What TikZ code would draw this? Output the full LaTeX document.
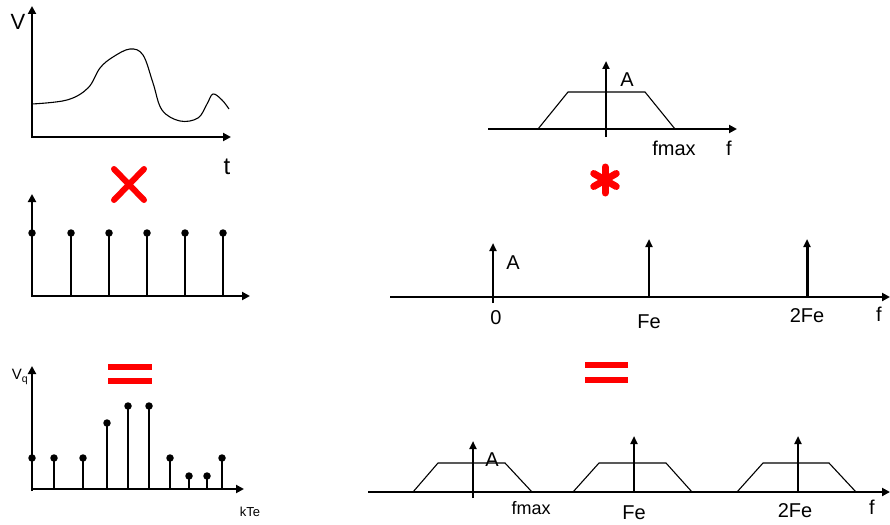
\documentclass[tikz,border=0pt]{standalone}
\usepackage{fontspec}
\setmainfont{Liberation Sans}
\usetikzlibrary{arrows.meta}
\begin{document}
\begin{tikzpicture}[x=1pt,y=-1pt,
  axis/.style={line width=2.6pt,-{Triangle[length=8pt,width=8pt]}},
  pulse/.style={line width=2.8pt},
  dirac/.style={line width=2.2pt,-{Triangle[length=8pt,width=7pt]}},
  thin/.style={line width=1.1pt},
  lbl/.style={inner sep=0pt,font=\fontsize{20}{22}\selectfont},
  dot/.style={circle,fill=black,inner sep=0pt,minimum size=7.5pt},
  redop/.style={red,line width=6pt,line cap=round}]
\useasboundingbox (0,0) rectangle (890,524);
% --- top-left signal
\draw[axis] (32,138) -- (32,6);
\draw[axis] (31,137) -- (231,137);
\node[lbl,font=\fontsize{22}{24}\selectfont] (V) at (18,22) {V};
\node[lbl,font=\fontsize{24}{26}\selectfont] (t) at (227,167) {t};
\draw[thin] plot[smooth,tension=0.6] coordinates {(32,104) (67,100) (88,88) (100,68) (113,57) (130,49) (143,55) (153,83) (162,110) (180,121) (198,118) (207,104) (213,94) (222,100) (229,109)};
% --- red times
\draw[redop] (114,169) -- (144,200) (144,169) -- (114,200);
% --- pulse train
\draw[axis] (32,297) -- (32,194);
\draw[axis] (31,296) -- (250,296);
\foreach \x [count=\i] in {32,71,109,147,185,223} {
  \draw[pulse] (\x,296) -- (\x,233);
  \node[dot] (p\i) at (\x,233) {};
}
% --- sampled signal
\draw[axis] (32,491) -- (32,366);
\draw[axis] (31,489) -- (244,489);
\node[inner sep=0pt,font=\fontsize{15}{17}\selectfont] (Vq) at (20,377) {V\textsubscript{q}};
\node[inner sep=0pt,font=\fontsize{13}{15}\selectfont] (kTe) at (250,512) {kTe};
\foreach \x/\y [count=\i] in {32/458,54/458,83/458,107/423,128/406,149/406,170/458,189/476,207/476,222/458} {
  \draw[pulse] (\x,489) -- (\x,\y);
  \node[dot] (s\i) at (\x,\y) {};
}
% --- red equals left
\draw[red,line width=6pt] (108,367) -- (152,367) (108,381) -- (152,381);
% --- top-right spectrum
\draw[axis] (488,129) -- (737,129);
\draw[dirac] (606,137) -- (606,61);
\draw[thin] (538,129) -- (568,92) -- (645,92) -- (675,129);
\node[lbl] (A1) at (627,80) {A};
\node[lbl] (fm1) at (674,148) {fmax};
\node[lbl] (f1) at (729,148) {f};
% --- red asterisk
\coordinate (ast) at (605,180);
\foreach \a in {90,30,-30,-90,-150,150}
  \draw[red,line width=7pt,line cap=round] (ast) -- ++(\a:13);
% --- dirac comb
\draw[axis] (390,297) -- (890,297);
\draw[dirac] (493,303) -- (493,243);
\draw[dirac] (649,297) -- (649,239);
\draw[dirac,line width=3pt] (807,297) -- (807,239);
\node[lbl] (A2) at (513,263) {A};
\node[lbl] (z) at (496,318) {0};
\node[lbl] (Fe2) at (649,322) {Fe};
\node[lbl] (F2e2) at (807,316) {2Fe};
\node[lbl] (f2) at (879,314) {f};
% --- red equals right
\draw[red,line width=6pt] (585,365) -- (628,365) (585,380) -- (628,380);
% --- resulting spectrum
\draw[axis] (368,492) -- (890,492);
\draw[dirac] (473,498) -- (473,441);
\draw[dirac] (634,492) -- (634,436);
\draw[dirac] (798,492) -- (798,436);
\draw[thin] (413,492) -- (438,463) -- (505,463) -- (532,492);
\draw[thin] (573,492) -- (599,463) -- (666,463) -- (692,492);
\draw[thin] (737,492) -- (763,463) -- (829,463) -- (856,492);
\node[lbl] (A3) at (492,460) {A};
\node[lbl,font=\fontsize{18}{20}\selectfont] (fm3) at (531,508) {fmax};
\node[lbl] (Fe3) at (634,513) {Fe};
\node[lbl] (F2e3) at (795,511) {2Fe};
\node[lbl] (f3) at (872,507) {f};
\end{tikzpicture}
\end{document}
